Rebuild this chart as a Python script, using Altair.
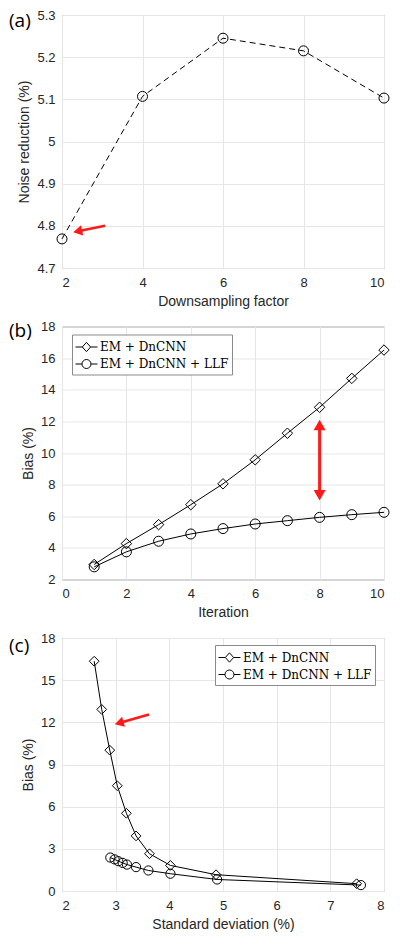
import altair as alt
import pandas as pd

# ---------------- data ----------------
# Panel (a)
a_factor = [2, 4, 6, 8, 10]
a_noise = [4.769, 5.107, 5.245, 5.215, 5.103]

# Panel (b)
b_iter = [1, 2, 3, 4, 5, 6, 7, 8, 9, 10]
b_dncnn = [2.95, 4.27, 5.47, 6.73, 8.05, 9.57, 11.25, 12.89, 14.72, 16.51]
b_llf = [2.80, 3.75, 4.42, 4.88, 5.22, 5.51, 5.72, 5.93, 6.10, 6.25]

# Panel (c)
c_std_dncnn = [2.60, 2.74, 2.89, 3.03, 3.20, 3.38, 3.63, 4.02, 4.87, 7.49]
c_bias_dncnn = [16.35, 12.92, 10.02, 7.49, 5.53, 3.92, 2.65, 1.82, 1.16, 0.52]
c_std_llf = [2.90, 2.98, 3.05, 3.13, 3.21, 3.38, 3.61, 4.02, 4.89, 7.57]
c_bias_llf = [2.38, 2.25, 2.12, 2.00, 1.88, 1.70, 1.46, 1.23, 0.82, 0.42]

series_names = ["EM + DnCNN", "EM + DnCNN + LLF"]

# annotation arrows (data coordinates): tail -> head centre
arrow_a_x = [3.07, 2.39]
arrow_a_y = [4.800, 4.787]
arrow_a_angle = 258
arrow_b_x = [8, 8]
arrow_b_y = [7.33, 11.77]
arrow_c_x = [3.62, 3.065]
arrow_c_y = [12.56, 11.95]
arrow_c_angle = 254

panel_labels = ["(a)", "(b)", "(c)"]

# ---------------- styling ----------------
W, H = 322, 253
SANS = "Liberation Sans"
SERIF = "DejaVu Serif"
RED = "#ff1a1a"

leg_diamond = "M-1,0L-0.24,0M0.68,0L1.44,0M0.22,-0.52L0.68,0L0.22,0.52L-0.24,0Z"
leg_circle = "M-1,0L-0.28,0M0.72,0L1.44,0M0.72,0A0.5,0.5,0,1,1,-0.28,0A0.5,0.5,0,1,1,0.72,0Z"


def panel_label(text, yoff):
    return alt.Chart(pd.DataFrame({"t": [text]})).mark_text(
        align="left", baseline="middle", font="Open Sans", fontSize=19, color="black"
    ).encode(x=alt.value(-53), y=alt.value(yoff), text="t:N")


def legend_layer(df, x, y, lx, ly):
    return alt.Chart(df).transform_filter("datum.x < -1000").mark_point(
        filled=False, color="black", strokeWidth=1, opacity=1
    ).encode(
        x=x, y=y,
        shape=alt.Shape(
            "series:N",
            scale=alt.Scale(domain=series_names, range=[leg_diamond, leg_circle]),
            legend=alt.Legend(
                title=None, orient="none", legendX=lx, legendY=ly,
                symbolSize=324, symbolStrokeWidth=1, symbolStrokeColor="black",
                labelFont=SERIF, labelFontSize=12, labelColor="black",
                labelOffset=6, padding=3, rowPadding=0,
                fillColor="white", strokeColor="#8a8a8a",
            ),
        ),
    )


# ---------------- panel (a) ----------------
df_a = pd.DataFrame({"x": a_factor, "y": a_noise})
xa = alt.X("x:Q", scale=alt.Scale(domain=[2, 10], nice=False, zero=False),
           axis=alt.Axis(values=[2, 4, 6, 8, 10], title="Downsampling factor"))
ya = alt.Y("y:Q", scale=alt.Scale(domain=[4.7, 5.3], nice=False, zero=False),
           axis=alt.Axis(values=[4.7, 4.8, 4.9, 5.0, 5.1, 5.2, 5.3], format="~g",
                         title="Noise reduction (%)"))

line_a = alt.Chart(df_a).mark_line(color="black", strokeWidth=1, strokeDash=[6, 4]).encode(xa, ya)
pts_a = alt.Chart(df_a).mark_point(shape="circle", filled=False, color="black",
                                   size=100, strokeWidth=1, opacity=1).encode(xa, ya)
df_arr_a = pd.DataFrame({"x": arrow_a_x, "y": arrow_a_y})
arr_a_line = alt.Chart(df_arr_a).mark_line(color=RED, strokeWidth=2.5).encode(xa, ya)
arr_a_head = alt.Chart(df_arr_a.iloc[[1]]).mark_point(
    shape="triangle-up", filled=True, color=RED, size=110, angle=arrow_a_angle, opacity=1
).encode(xa, ya)

panel_a = alt.layer(line_a, pts_a, arr_a_line, arr_a_head, panel_label(panel_labels[0], 6)).properties(
    width=W, height=H)

# ---------------- panel (b) ----------------
df_b = pd.DataFrame({
    "x": b_iter + b_iter,
    "y": b_dncnn + b_llf,
    "series": [series_names[0]] * len(b_iter) + [series_names[1]] * len(b_iter),
})
xb = alt.X("x:Q", scale=alt.Scale(domain=[0, 10], nice=False),
           axis=alt.Axis(values=[0, 2, 4, 6, 8, 10], title="Iteration"))
yb = alt.Y("y:Q", scale=alt.Scale(domain=[2, 18], nice=False, zero=False),
           axis=alt.Axis(values=[2, 4, 6, 8, 10, 12, 14, 16, 18], title="Bias (%)"))

line_b = alt.Chart(df_b).mark_line(color="black", strokeWidth=1).encode(xb, yb, detail="series:N")
dia_b = alt.Chart(df_b).transform_filter(alt.datum.series == series_names[0]).mark_point(
    shape="diamond", filled=False, color="black", size=110, strokeWidth=1, opacity=1).encode(xb, yb)
cir_b = alt.Chart(df_b).transform_filter(alt.datum.series == series_names[1]).mark_point(
    shape="circle", filled=False, color="black", size=100, strokeWidth=1, opacity=1).encode(xb, yb)
leg_b = legend_layer(df_b, xb, yb, 10, 8)

df_arr_b = pd.DataFrame({"x": arrow_b_x, "y": arrow_b_y, "angle": [180, 0]})
arr_b_line = alt.Chart(df_arr_b).mark_line(color=RED, strokeWidth=3).encode(xb, yb)
arr_b_head = alt.Chart(df_arr_b).mark_point(
    shape="triangle-up", filled=True, color=RED, size=144, opacity=1
).encode(xb, yb, angle=alt.Angle("angle:Q", scale=None))

panel_b = alt.layer(line_b, dia_b, cir_b, leg_b, arr_b_line, arr_b_head,
                    panel_label(panel_labels[1], 4)).properties(width=W, height=H)

# ---------------- panel (c) ----------------
n = len(c_std_dncnn)
df_c = pd.DataFrame({
    "x": c_std_dncnn + c_std_llf,
    "y": c_bias_dncnn + c_bias_llf,
    "o": list(range(n)) + list(range(n)),
    "series": [series_names[0]] * n + [series_names[1]] * n,
})
xc = alt.X("x:Q", scale=alt.Scale(domain=[2, 8], nice=False, zero=False),
           axis=alt.Axis(values=[2, 3, 4, 5, 6, 7, 8], title="Standard deviation (%)"))
yc = alt.Y("y:Q", scale=alt.Scale(domain=[0, 18], nice=False),
           axis=alt.Axis(values=[0, 3, 6, 9, 12, 15, 18], title="Bias (%)"))

line_c = alt.Chart(df_c).mark_line(color="black", strokeWidth=1).encode(
    xc, yc, detail="series:N", order="o:Q")
dia_c = alt.Chart(df_c).transform_filter(alt.datum.series == series_names[0]).mark_point(
    shape="diamond", filled=False, color="black", size=95, strokeWidth=1, opacity=1).encode(xc, yc)
cir_c = alt.Chart(df_c).transform_filter(alt.datum.series == series_names[1]).mark_point(
    shape="circle", filled=False, color="black", size=85, strokeWidth=1, opacity=1).encode(xc, yc)
leg_c = legend_layer(df_c, xc, yc, 153, 7)

df_arr_c = pd.DataFrame({"x": arrow_c_x, "y": arrow_c_y})
arr_c_line = alt.Chart(df_arr_c).mark_line(color=RED, strokeWidth=2.5).encode(xc, yc)
arr_c_head = alt.Chart(df_arr_c.iloc[[1]]).mark_point(
    shape="triangle-up", filled=True, color=RED, size=110, angle=arrow_c_angle, opacity=1
).encode(xc, yc)

panel_c = alt.layer(line_c, dia_c, cir_c, leg_c, arr_c_line, arr_c_head,
                    panel_label(panel_labels[2], 8)).properties(width=W, height=H)

# ---------------- assemble ----------------
chart = alt.vconcat(panel_a, panel_b, panel_c, spacing=58.5, bounds="flush").resolve_scale(
    shape="independent"
).resolve_legend(
    shape="independent"
).properties(
    padding=0
).configure_view(
    stroke="#8a8a8a", strokeWidth=1
).configure_axis(
    labelFont=SANS, labelFontSize=13, labelColor="#262626",
    titleFont=SANS, titleFontSize=14, titleFontWeight="normal", titleColor="#262626",
    grid=True, gridColor="#e6e6e6", gridWidth=1, domain=False, ticks=False,
).configure_axisX(
    labelPadding=8, titlePadding=5
).configure_axisY(
    labelPadding=7, titlePadding=5
)

chart.save("out.html", embed_options={"renderer": "svg", "actions": False})
